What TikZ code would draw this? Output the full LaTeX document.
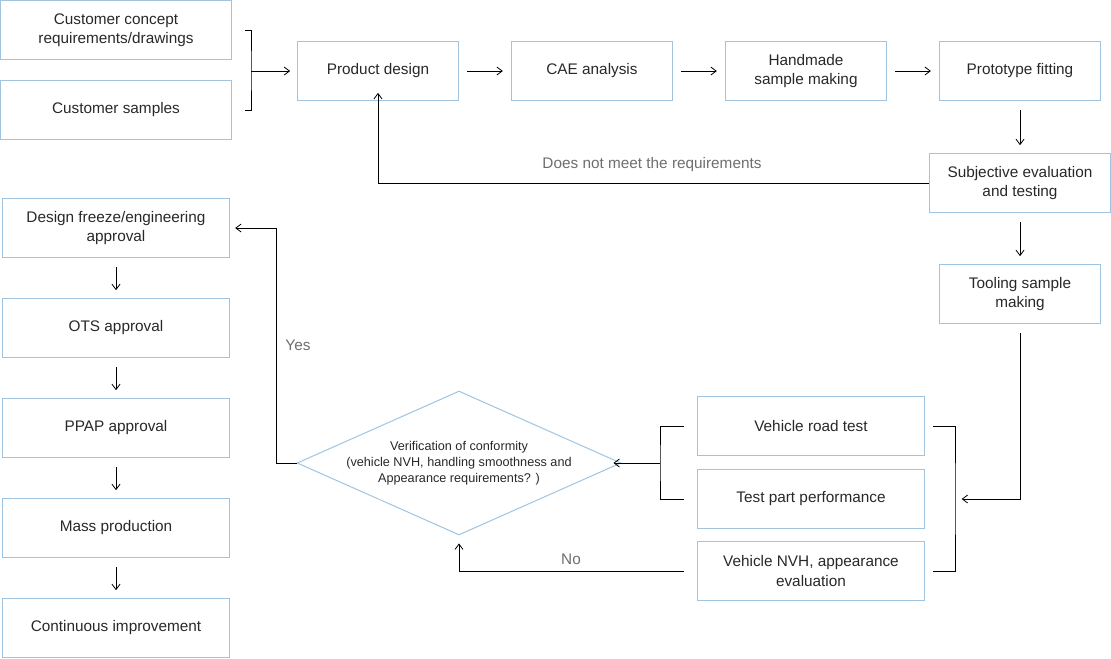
\documentclass[tikz,border=0pt]{standalone}
\usepackage{fontspec}
\setmainfont{Liberation Sans}
\usetikzlibrary{shapes.geometric,arrows.meta}
\definecolor{boxline}{RGB}{160,196,224}
\definecolor{txt}{RGB}{40,40,40}
\definecolor{lbl}{RGB}{110,110,110}
\tikzset{every picture/.style={line width=0.75pt}}
\tikzset{
  stage/.style={draw=boxline,text=txt,minimum height=44pt,align=center,font=\fontsize{11.5}{14.5}\selectfont,inner sep=1pt},
  flow/.style={-{Straight Barb[length=4pt,width=6pt]},line width=0.6pt},
  link/.style={line width=0.6pt},
  note/.style={text=lbl,font=\fontsize{11.5}{14}\selectfont}
}
\begin{document}
\begin{tikzpicture}[x=0.75pt,y=0.75pt,yscale=-1,xscale=1]
\useasboundingbox (0,0) rectangle (1111,658);

% Boxes
\node [stage,minimum width=173pt] (concept) at (116,30) {Customer concept\\requirements/drawings};
\node [stage,minimum width=173pt] (samples) at (116,110) {Customer samples};
\node [stage,minimum width=121pt] (design) at (378,71) {Product design};
\node [stage,minimum width=121pt] (cae) at (592,71) {CAE analysis};
\node [stage,minimum width=121pt] (hand) at (806,71) {Handmade\\sample making};
\node [stage,minimum width=121pt] (proto) at (1020,71) {Prototype fitting};
\node [stage,minimum width=136pt] (subj) at (1020,183) {Subjective evaluation\\and testing};
\node [stage,minimum width=121pt] (tool) at (1020,294) {Tooling sample\\making};
\node [stage,minimum width=170pt] (freeze) at (116,228) {Design freeze/engineering\\approval};
\node [stage,minimum width=170pt] (ots) at (116,328) {OTS approval};
\node [stage,minimum width=170pt] (ppap) at (116,428) {PPAP approval};
\node [stage,minimum width=170pt] (mass) at (116,528) {Mass production};
\node [stage,minimum width=170pt] (cont) at (116,628) {Continuous improvement};
\node [stage,minimum width=170pt] (road) at (811,426) {Vehicle road test};
\node [stage,minimum width=170pt] (part) at (811,499) {Test part performance};
\node [stage,minimum width=170pt] (nvh) at (811,571) {Vehicle NVH, appearance\\evaluation};
\node [draw=boxline,text=txt,diamond,aspect=2.25,minimum width=232pt,minimum height=103pt,inner sep=0pt,align=center,font=\fontsize{9.5}{12}\selectfont] (check) at (459,463) {Verification of conformity\\(vehicle NVH, handling smoothness and\\Appearance requirements? )};

% Brackets
\coordinate (inA) at (251,71);
\draw [link] ([xshift=10pt]concept.east) -| (inA) |- ([xshift=10pt]samples.east);
\draw [flow] (inA) -- ([xshift=-5pt]design.west);
\coordinate (outV) at (660,463);
\draw [link] ([xshift=-10pt]road.west) -| (outV) |- ([xshift=-10pt]part.west);
\draw [flow] (outV) -- ([xshift=-6pt]check.east);
\coordinate (inV) at (955,499);
\draw [link] ([xshift=6pt]road.east) -| (inV) |- ([xshift=6pt]nvh.east);

% Top row
\draw [flow] ([xshift=6pt]design.east) -- ([xshift=-6pt]cae.west);
\draw [flow] ([xshift=6pt]cae.east) -- ([xshift=-6pt]hand.west);
\draw [flow] ([xshift=6pt]hand.east) -- ([xshift=-6pt]proto.west);
\draw [flow] ([yshift=7pt]proto.south) -- ([yshift=-6pt]subj.north);
\draw [flow] ([yshift=7pt]subj.south) -- ([yshift=-6pt]tool.north);
\draw [flow] (subj.west) -| ([yshift=-6pt]design.south);
\node [note] (nomeet) at (652,165) {Does not meet the requirements};

% Tooling to vehicle tests
\draw [flow] ([yshift=7pt]tool.south) |- ([xshift=5pt]inV);

% Decision
\draw [flow] ([xshift=-10pt]nvh.west) -| ([yshift=6pt]check.south);
\node [note] (no) at (571,559) {No};
\draw [flow] (check.west) -| (276,228) -- ([xshift=4pt]freeze.east);
\node [note] (yes) at (298,345) {Yes};

% Left column
\foreach \a/\b in {freeze/ots,ots/ppap,ppap/mass,mass/cont}
  \draw [flow] ([yshift=7pt]\a.south) -- ([yshift=-6pt]\b.north);
\end{tikzpicture}
\end{document}
